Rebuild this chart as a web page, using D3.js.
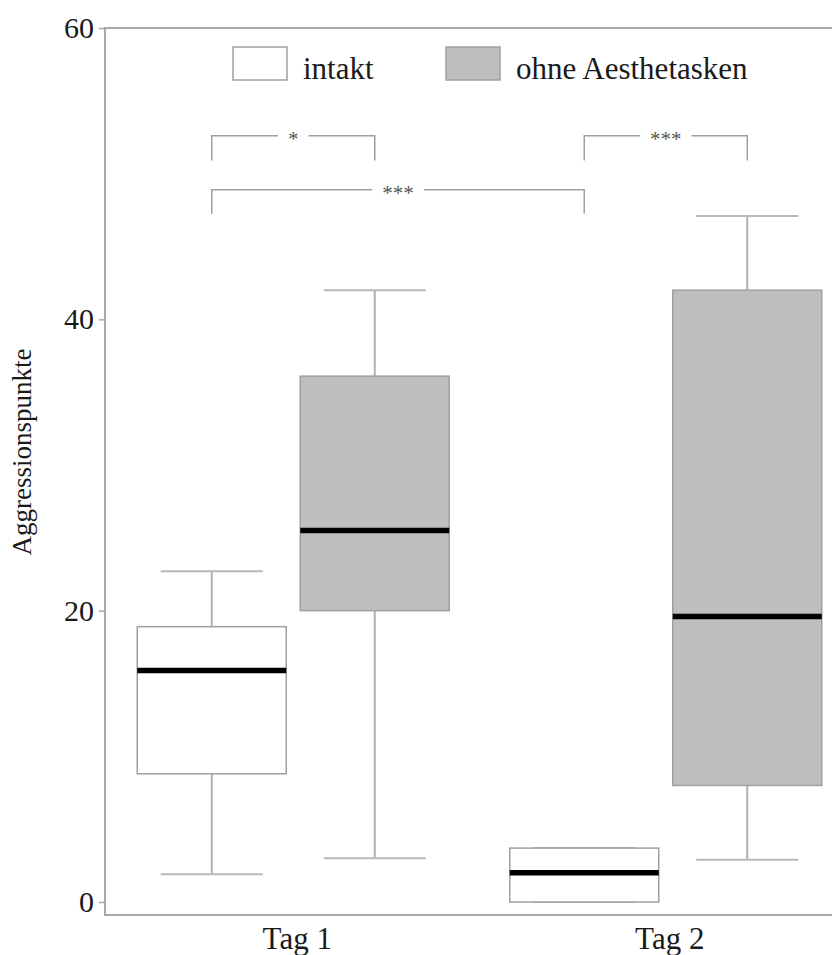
<!DOCTYPE html>
<html>
<head>
<meta charset="utf-8">
<script src="https://cdn.jsdelivr.net/npm/d3@7"></script>
<style>
  body { margin: 0; background: #fff; }
  text { font-family: "Liberation Serif", "Times New Roman", serif; }
</style>
</head>
<body>
<div id="chart"></div>
<script>
const days = ["Tag 1", "Tag 2"];
const groups = ["intakt", "ohne Aesthetasken"];
const yTicks = [0, 20, 40, 60];

// five-number summaries per day and group: [lower whisker, Q1, median, Q3, upper whisker]
const intaktStats = [[1.9, 8.8, 15.9, 18.9, 22.7], [0, 0, 2.0, 3.7, 3.7]];
const ohneStats = [[3.0, 20.0, 25.5, 36.1, 42.0], [2.9, 8.0, 19.6, 42.0, 47.1]];

// significance brackets
const brackets = [
  { day1: "Tag 1", g1: "intakt", day2: "Tag 1", g2: "ohne Aesthetasken", y: 52.6, drop: 1.7, label: "*" },
  { day1: "Tag 1", g1: "intakt", day2: "Tag 2", g2: "intakt", y: 48.9, drop: 1.65, label: "***" },
  { day1: "Tag 2", g1: "intakt", day2: "Tag 2", g2: "ohne Aesthetasken", y: 52.6, drop: 1.7, label: "***" }
];

const width = 832;
const height = 955;
const frameLeft = 105, frameTop = 28, frameBottom = 915;
const boxWidth = 149;
const capWidth = 102;
const fills = { "intakt": "#ffffff", "ohne Aesthetasken": "#bebebe" };

function drawChart() {
  const svg = d3.select("#chart")
    .append("svg")
    .attr("width", width)
    .attr("height", height);

  const x = d3.scalePoint().domain(days).range([107, 852]).padding(0.5);
  const xGroup = d3.scalePoint().domain(groups).range([-81.5, 81.5]);
  const y = d3.scaleLinear().domain([0, 60]).range([902, 28]);
  const xPos = (day, g) => x(day) + xGroup(g);

  const data = [];
  days.forEach((day, i) => {
    data.push({ day: day, group: "intakt", s: intaktStats[i] });
    data.push({ day: day, group: "ohne Aesthetasken", s: ohneStats[i] });
  });

  // frame lines (top, left, bottom)
  svg.append("path")
    .attr("d", `M${width},${frameTop}H${frameLeft}V${frameBottom}H${width}`)
    .attr("fill", "none")
    .attr("stroke", "#a8a8a8")
    .attr("stroke-width", 2);

  // y axis ticks + labels
  const yAxis = svg.append("g")
    .attr("transform", `translate(${frameLeft},0)`)
    .call(d3.axisLeft(y).tickValues(yTicks).tickSize(6).tickPadding(5));
  yAxis.select(".domain").remove();
  yAxis.selectAll(".tick line").attr("stroke", "#a8a8a8").attr("stroke-width", 1.5);
  yAxis.selectAll(".tick text")
    .attr("fill", "#1a1a1a")
    .style("font-size", "30px")
    .style("font-family", "Liberation Serif, serif");

  svg.append("text")
    .attr("transform", "translate(31,452) rotate(-90)")
    .attr("text-anchor", "middle")
    .attr("fill", "#1a1a1a")
    .style("font-size", "27px")
    .text("Aggressionspunkte");

  // x labels
  svg.selectAll(".day-label")
    .data(days)
    .enter()
    .append("text")
    .attr("class", "day-label")
    .attr("x", d => x(d) + 4)
    .attr("y", 949)
    .attr("text-anchor", "middle")
    .attr("fill", "#1a1a1a")
    .style("font-size", "31px")
    .text(d => d);

  const box = svg.selectAll(".box")
    .data(data)
    .enter()
    .append("g")
    .attr("class", "box");

  // whiskers
  box.append("line")
    .attr("x1", d => xPos(d.day, d.group))
    .attr("x2", d => xPos(d.day, d.group))
    .attr("y1", d => y(d.s[0]))
    .attr("y2", d => y(d.s[1]))
    .attr("stroke", "#b0b0b0").attr("stroke-width", 2);
  box.append("line")
    .attr("x1", d => xPos(d.day, d.group))
    .attr("x2", d => xPos(d.day, d.group))
    .attr("y1", d => y(d.s[3]))
    .attr("y2", d => y(d.s[4]))
    .attr("stroke", "#b0b0b0").attr("stroke-width", 2);
  [0, 4].forEach(k => {
    box.append("line")
      .attr("x1", d => xPos(d.day, d.group) - capWidth / 2)
      .attr("x2", d => xPos(d.day, d.group) + capWidth / 2)
      .attr("y1", d => y(d.s[k]))
      .attr("y2", d => y(d.s[k]))
      .attr("stroke", "#b8b8b8").attr("stroke-width", 2);
  });

  // boxes
  box.append("rect")
    .attr("x", d => xPos(d.day, d.group) - boxWidth / 2)
    .attr("width", boxWidth)
    .attr("y", d => y(d.s[3]))
    .attr("height", d => y(d.s[1]) - y(d.s[3]))
    .attr("fill", d => fills[d.group])
    .attr("stroke", "#a0a0a0")
    .attr("stroke-width", 1.5);

  // medians
  box.append("line")
    .attr("x1", d => xPos(d.day, d.group) - boxWidth / 2)
    .attr("x2", d => xPos(d.day, d.group) + boxWidth / 2)
    .attr("y1", d => y(d.s[2]))
    .attr("y2", d => y(d.s[2]))
    .attr("stroke", "#000").attr("stroke-width", 5.5);

  // significance brackets
  brackets.forEach(b => {
    const x1 = xPos(b.day1, b.g1), x2 = xPos(b.day2, b.g2);
    const xm = (x1 + x2) / 2;
    const yy = y(b.y), yd = y(b.y - b.drop);
    const t = svg.append("text")
      .attr("x", xm)
      .attr("y", yy + 10)
      .attr("text-anchor", "middle")
      .attr("fill", "#555")
      .style("font-size", "21px")
      .text(b.label);
    const half = t.node().getComputedTextLength() / 2 + 10;
    svg.append("path")
      .attr("d", `M${x1},${yd}V${yy}H${xm - half}M${xm + half},${yy}H${x2}V${yd}`)
      .attr("fill", "none")
      .attr("stroke", "#a0a0a0")
      .attr("stroke-width", 1.5);
  });

  // legend
  const legend = svg.selectAll(".legend")
    .data(groups)
    .enter()
    .append("g")
    .attr("class", "legend")
    .attr("transform", (d, i) => `translate(${[233, 446][i]},47)`);
  legend.append("rect")
    .attr("width", 54)
    .attr("height", 33)
    .attr("fill", d => fills[d])
    .attr("stroke", "#a0a0a0")
    .attr("stroke-width", 1.5);
  legend.append("text")
    .attr("x", 70)
    .attr("y", 32)
    .attr("fill", "#1a1a1a")
    .style("font-size", "31px")
    .text(d => d);
}

drawChart();
</script>
</body>
</html>
